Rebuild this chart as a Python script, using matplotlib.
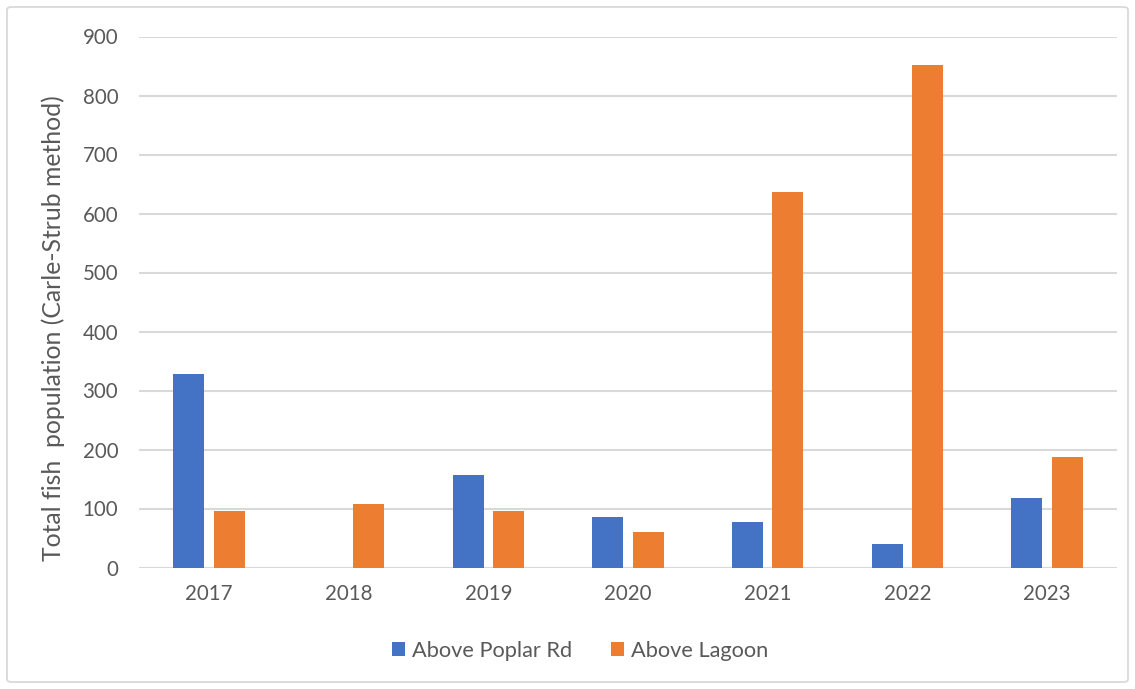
import numpy as np
import matplotlib
matplotlib.use("Agg")
import matplotlib.pyplot as plt
from matplotlib.patches import FancyBboxPatch

years = ["2017", "2018", "2019", "2020", "2021", "2022", "2023"]
above_poplar_rd = [328, np.nan, 156, 86, 77, 40, 118]
above_lagoon = [95, 107, 95, 60, 637, 852, 188]
series_names = ["Above Poplar Rd", "Above Lagoon"]
y_ticks = [0, 100, 200, 300, 400, 500, 600, 700, 800, 900]
y_label = "Total fish  population (Carle-Strub method)"

BLUE = "#4472C4"
ORANGE = "#ED7D31"
TEXT = "#595959"
GRID = "#D9D9D9"

plt.rcParams["font.family"] = ["Lato", "DejaVu Sans"]

W, H = 1135, 689
fig = plt.figure(figsize=(W / 100, H / 100), dpi=100)
fig.patch.set_facecolor("white")

# chart-area frame
frame = FancyBboxPatch((7 / W, 7 / H), 1121 / W, 675 / H,
                       boxstyle="round,pad=0,rounding_size=0.004",
                       transform=fig.transFigure, facecolor="none",
                       edgecolor=GRID, linewidth=1.3, zorder=0)
fig.patches.append(frame)

left, right = 139 / W, 1117 / W
bottom, top = (H - 567.5) / H, (H - 36.5) / H
ax = fig.add_axes([left, bottom, right - left, top - bottom])

x = np.arange(len(years))
bw = 0.222
off = 0.145
ax.bar(x - off, above_poplar_rd, width=bw, color=BLUE, label=series_names[0], zorder=3)
ax.bar(x + off, above_lagoon, width=bw, color=ORANGE, label=series_names[1], zorder=3)

ax.set_xlim(-0.5, len(years) - 0.5)
ax.set_ylim(0, 900)
ax.set_yticks(y_ticks)
ax.set_yticklabels([str(v) for v in y_ticks])
ax.set_xticks(x)
ax.set_xticklabels(years)

ax.yaxis.grid(True, color=GRID, linewidth=1.5, zorder=0)
ax.set_axisbelow(True)
for s in ax.spines.values():
    s.set_visible(False)
ax.axhline(0, color=GRID, linewidth=1.5, zorder=2)
ax.tick_params(axis="both", length=0, labelsize=14.8, colors=TEXT)
ax.tick_params(axis="y", pad=15)
ax.tick_params(axis="x", pad=12)

fig.text(53 / W, (H - 328) / H, y_label, rotation=90, ha="center", va="center",
         fontsize=17.8, color=TEXT)

leg = fig.legend(loc="center", bbox_to_anchor=(580 / W, 38 / H), ncol=2,
                 frameon=False, fontsize=15.7, handlelength=0.6, handleheight=0.6,
                 handletextpad=0.3, columnspacing=1.8)
for t in leg.get_texts():
    t.set_color(TEXT)

fig.savefig("out.png", dpi=100, facecolor="white")
